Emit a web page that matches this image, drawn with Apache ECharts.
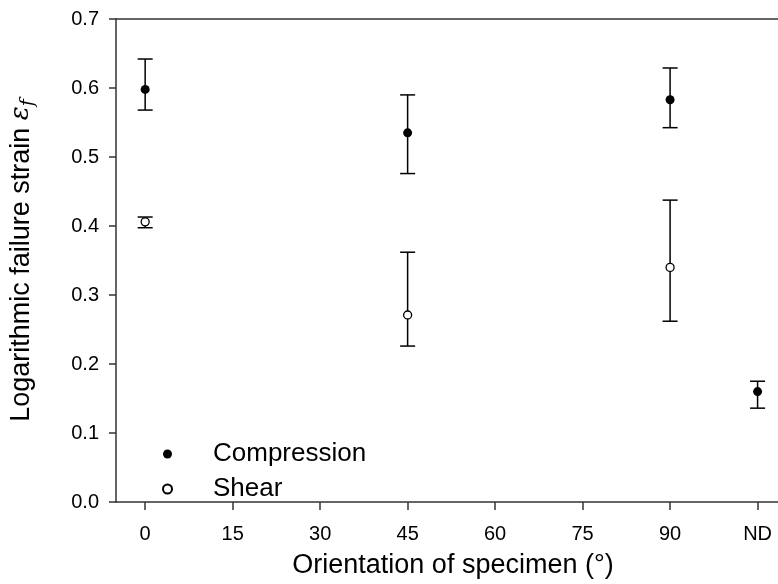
<!DOCTYPE html>
<html>
<head>
<meta charset="utf-8">
<script src="https://cdn.jsdelivr.net/npm/echarts@6/dist/echarts.min.js"></script>
<style>html,body{margin:0;padding:0;background:#fff;}#chart{width:778px;height:584px;}</style>
</head>
<body>
<div id="chart"></div>
<script>
// x positions (ND plotted at 105)
const xTickValues = [0, 15, 30, 45, 60, 75, 90, 105];
const xTickLabels = ['0', '15', '30', '45', '60', '75', '90', 'ND'];
const compX = [0, 45, 90, 105];
const compMean = [0.598, 0.535, 0.583, 0.160];
const compLow = [0.568, 0.476, 0.5425, 0.136];
const compHigh = [0.642, 0.590, 0.629, 0.175];
const shearX = [0, 45, 90];
const shearMean = [0.406, 0.271, 0.340];
const shearLow = [0.3975, 0.226, 0.262];
const shearHigh = [0.413, 0.362, 0.4375];

const FONT = 'Liberation Sans, Arial, sans-serif';
const chart = echarts.init(document.getElementById('chart'), null, {renderer: 'canvas'});

function errData(xs, lo, hi) { return xs.map((x, i) => [x, lo[i], hi[i]]); }
function errSeries(xs, lo, hi) {
  return {
    type: 'custom',
    silent: true,
    z: 1,
    data: errData(xs, lo, hi),
    renderItem: function (params, api) {
      const x = api.value(0);
      const pLo = api.coord([x, api.value(1)]);
      const pHi = api.coord([x, api.value(2)]);
      const hw = 7.5;
      const st = {stroke: '#000', lineWidth: 1.5};
      return {
        type: 'group',
        children: [
          {type: 'line', shape: {x1: pLo[0], y1: pLo[1], x2: pHi[0], y2: pHi[1]}, style: st},
          {type: 'line', shape: {x1: pLo[0] - hw, y1: pLo[1], x2: pLo[0] + hw, y2: pLo[1]}, style: st},
          {type: 'line', shape: {x1: pHi[0] - hw, y1: pHi[1], x2: pHi[0] + hw, y2: pHi[1]}, style: st}
        ]
      };
    }
  };
}

const XMIN = -5, XMAX = 108.5;
const option = {
  backgroundColor: '#fff',
  animation: false,
  grid: {left: 113, top: 19, width: 665, height: 484, show: false},
  legend: {
    orient: 'vertical',
    left: 157,
    top: 434,
    itemWidth: 9,
    itemHeight: 9,
    itemGap: 5,
    data: ['Compression', 'Shear'],
    textStyle: {fontFamily: FONT, fontSize: 26, color: '#000', lineHeight: 30, padding: [0, 0, 0, 36]}
  },
  xAxis: [{
    type: 'value',
    min: XMIN,
    max: XMAX,
    name: 'Orientation of specimen (°)',
    nameLocation: 'middle',
    nameGap: 50,
    nameTextStyle: {fontFamily: FONT, fontSize: 27, color: '#000', padding: [0, 0, 0, 12]},
    axisLine: {show: true, onZero: false, lineStyle: {color: '#333', width: 1.5}},
    axisTick: {show: true, length: 8, customValues: xTickValues, lineStyle: {color: '#333', width: 1.5}},
    axisLabel: {
      customValues: xTickValues,
      margin: 22,
      fontFamily: FONT, fontSize: 20, color: '#000',
      formatter: function (v) { const i = xTickValues.indexOf(v); return i >= 0 ? xTickLabels[i] : ''; }
    },
    splitLine: {show: false}
  }, {
    type: 'value',
    position: 'top',
    min: XMIN,
    max: XMAX,
    axisLine: {show: true, onZero: false, lineStyle: {color: '#333', width: 1.5}},
    axisTick: {show: false},
    axisLabel: {show: false},
    splitLine: {show: false}
  }],
  yAxis: {
    type: 'value',
    min: 0,
    max: 0.7,
    interval: 0.1,
    name: 'Logarithmic failure strain {e|ε}{s|f}',
    nameLocation: 'middle',
    nameGap: 78,
    nameRotate: 90,
    nameTextStyle: {
      fontFamily: FONT, fontSize: 27, color: '#000',
      rich: {
        e: {fontFamily: 'DejaVu Serif, serif', fontStyle: 'italic', fontSize: 26, color: '#000'},
        s: {fontFamily: 'DejaVu Serif, serif', fontStyle: 'italic', fontSize: 19, color: '#000', verticalAlign: 'bottom', padding: [14, 0, 0, 0]}
      }
    },
    axisLine: {show: true, onZero: false, lineStyle: {color: '#333', width: 1.5}},
    axisTick: {show: true, length: 7, lineStyle: {color: '#333', width: 1.5}},
    axisLabel: {margin: 17, fontFamily: FONT, fontSize: 20, color: '#000', formatter: v => v.toFixed(1)},
    splitLine: {show: false}
  },
  series: [
    errSeries(compX, compLow, compHigh),
    errSeries(shearX, shearLow, shearHigh),
    {
      name: 'Compression',
      type: 'scatter',
      z: 3,
      symbol: 'circle',
      symbolSize: 9,
      itemStyle: {color: '#000', borderColor: '#000', borderWidth: 0, opacity: 1},
      data: compX.map((x, i) => [x, compMean[i]])
    },
    {
      name: 'Shear',
      type: 'scatter',
      z: 3,
      symbol: 'circle',
      symbolSize: 8,
      itemStyle: {color: '#fff', borderColor: '#000', borderWidth: 1.3, opacity: 1},
      data: shearX.map((x, i) => [x, shearMean[i]])
    }
  ]
};
chart.setOption(option);
</script>
</body>
</html>
